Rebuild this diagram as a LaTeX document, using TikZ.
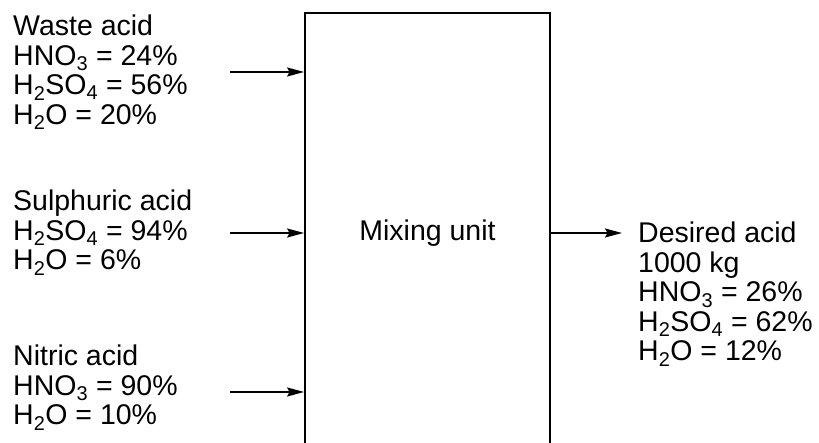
\documentclass[tikz,border=0pt]{standalone}
\usepackage{fontspec}
\setmainfont{Liberation Sans}
\usetikzlibrary{arrows.meta,positioning,calc}
\newcommand{\sbs}[1]{\textsubscript{#1}}

\begin{document}
\begin{tikzpicture}[x=1pt, y=1pt,
    unit/.style={rectangle, draw=black, line width=1.8pt, fill=white,
                minimum width=245pt, minimum height=440pt,
                font=\fontsize{28.5}{29.5}\selectfont},
    stream/.style={anchor=north west, inner sep=0pt, align=left,
                font=\fontsize{28.5}{29.5}\selectfont},
    arr/.style={-{Stealth[length=17pt, width=9pt, inset=2.5pt]}, line width=1.8pt},
]

\clip (0,0) rectangle (819,443);
\fill[white] (0,0) rectangle (819,443);

% --- Mixing unit ---
\node[unit] (mix) at (427.5,210) {Mixing unit};

% --- Feed streams ---
\node[stream] (waste) at (13,428) {Waste acid\\HNO\sbs{3} = 24\%\\H\sbs{2}SO\sbs{4} = 56\%\\H\sbs{2}O = 20\%};
\node[stream] (sulph) at (13,253) {Sulphuric acid\\H\sbs{2}SO\sbs{4} = 94\%\\H\sbs{2}O = 6\%};
\node[stream] (nitric) at (13,98) {Nitric acid\\HNO\sbs{3} = 90\%\\H\sbs{2}O = 10\%};

% --- Product stream ---
\node[stream] (desired) at (638,221) {Desired acid\\1000 kg\\HNO\sbs{3} = 26\%\\H\sbs{2}SO\sbs{4} = 62\%\\H\sbs{2}O = 12\%};

% --- Arrows ---
\coordinate (in1) at (230,371);
\coordinate (in2) at (230,210);
\coordinate (in3) at (230,51);
\coordinate (out) at (622,210);
\draw[arr] (in1) -- (in1 -| mix.west);
\draw[arr] (in2) -- (in2 -| mix.west);
\draw[arr] (in3) -- (in3 -| mix.west);
\draw[arr] (mix.east) -- (out);

\end{tikzpicture}
\end{document}
